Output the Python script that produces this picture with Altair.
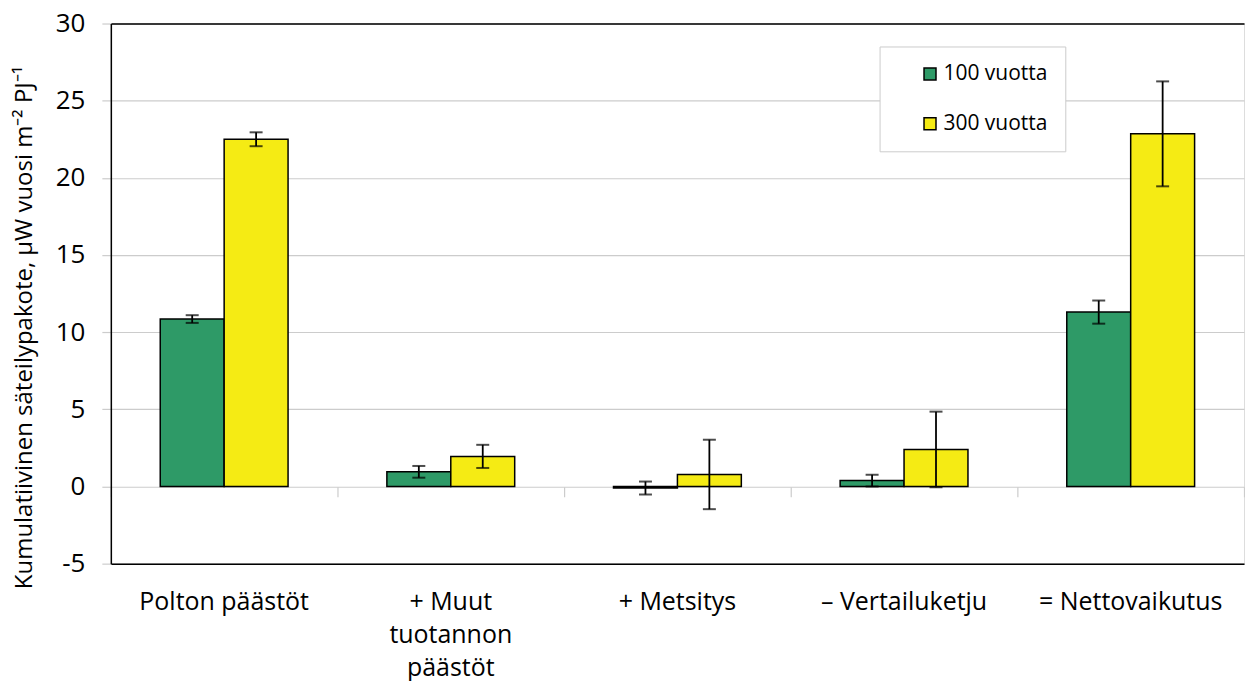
import altair as alt
import pandas as pd

categories = ["Polton päästöt", "+ Muut\ntuotannon\npäästöt", "+ Metsitys", "– Vertailuketju", "= Nettovaikutus"]
series = ["100 vuotta", "300 vuotta"]
values_100 = [10.85, 0.95, -0.1, 0.38, 11.3]
err_100 = [0.25, 0.38, 0.42, 0.38, 0.75]
values_300 = [22.5, 1.95, 0.78, 2.4, 22.85]
err_300 = [0.45, 0.75, 2.25, 2.45, 3.4]
colors = ["#2e9a67", "#f5eb14"]

rows = []
for i, c in enumerate(categories):
    rows.append({"cat": c, "series": series[0], "v": values_100[i], "lo": values_100[i] - err_100[i], "hi": values_100[i] + err_100[i]})
    rows.append({"cat": c, "series": series[1], "v": values_300[i], "lo": values_300[i] - err_300[i], "hi": values_300[i] + err_300[i]})
df = pd.DataFrame(rows)

FONT = "Open Sans"

xscale = alt.Scale(domain=categories, paddingInner=0, paddingOuter=0)
xoff = alt.XOffset("series:N", scale=alt.Scale(domain=series, paddingInner=0, paddingOuter=0.773))
yscale = alt.Scale(domain=[-5, 30], nice=False, zero=False)

yaxis = alt.Axis(title="Kumulatiivinen säteilypakote, µW vuosi m⁻² PJ⁻¹", values=[-5, 0, 5, 10, 15, 20, 25, 30],
                 labelExpr="'' + datum.value",
                 grid=True, gridColor="#cccccc", gridWidth=1.2, domainColor="black", domainWidth=1.5,
                 tickColor="#cccccc", tickSize=9, tickWidth=1.2, labelFont=FONT, labelFontSize=26,
                 labelColor="black", labelPadding=17, titleFont=FONT, titleFontSize=24,
                 titleFontWeight="normal", titleColor="black", titleAngle=270,
                 titleBaseline="middle", titleAlign="center", titleX=-86, titleY=304)

base = alt.Chart(df)

bars = base.mark_bar(stroke="black", strokeWidth=1.5).encode(
    x=alt.X("cat:N", scale=xscale, sort=categories,
            axis=alt.Axis(title=None, orient="bottom", labelAngle=0, domain=True, domainColor="black",
                          domainWidth=1.5, ticks=False, grid=False, labelLimit=400,
                          labelExpr="split(datum.label, '\\n')", labelFont=FONT, labelFontSize=25,
                          labelColor="black", labelPadding=38, labelLineHeight=33, labelBaseline="middle")),
    xOffset=xoff,
    y=alt.Y("v:Q", scale=yscale, axis=yaxis),
    color=alt.Color("series:N", scale=alt.Scale(domain=series, range=colors),
                    legend=alt.Legend(title=None, orient="none", legendX=770, legendY=23,
                                      symbolType="square", symbolSize=144, symbolStrokeColor="black",
                                      symbolStrokeWidth=1.5, labelFont=FONT, labelFontSize=21,
                                      labelColor="black", rowPadding=28, padding=17, symbolOffset=23,
                                      strokeColor="#cccccc", fillColor="white", labelOffset=3)),
)

zero_ticks = base.mark_rule(opacity=0).encode(
    x=alt.X("cat:N", scale=xscale, sort=categories,
            axis=alt.Axis(title=None, orient="bottom", labels=False, domain=False, ticks=True, tickBand="extent",
                          tickColor="#cccccc", tickSize=10, tickWidth=1.2, grid=False, offset=-77)),
)

top_frame = base.mark_rule(opacity=0).encode(
    x=alt.X("cat:N", scale=xscale, sort=categories,
            axis=alt.Axis(title=None, orient="top", labels=False, domain=True, domainColor="black",
                          domainWidth=1.5, ticks=False, grid=False)),
)

rules = base.mark_rule(color="black", strokeWidth=1.8).encode(
    x=alt.X("cat:N", scale=xscale, sort=categories, axis=None),
    xOffset=xoff,
    y=alt.Y("lo:Q", scale=yscale, axis=yaxis),
    y2="hi:Q",
)
caps_lo = base.mark_tick(color="black", thickness=2, size=13).encode(
    x=alt.X("cat:N", scale=xscale, sort=categories, axis=None),
    xOffset=xoff,
    y=alt.Y("lo:Q", scale=yscale, axis=yaxis),
)
caps_hi = base.mark_tick(color="black", thickness=2, size=13).encode(
    x=alt.X("cat:N", scale=xscale, sort=categories, axis=None),
    xOffset=xoff,
    y=alt.Y("hi:Q", scale=yscale, axis=yaxis),
)

chart = alt.layer(bars, zero_ticks, top_frame, rules, caps_lo, caps_hi).resolve_axis(x="independent").properties(
    width=1135, height=541, padding={"left": 4, "top": 2, "right": 0, "bottom": 0}
).configure_view(strokeWidth=0, strokeOpacity=0).configure(background="white")

chart.save("out.html", embed_options={"renderer": "svg", "actions": False})
